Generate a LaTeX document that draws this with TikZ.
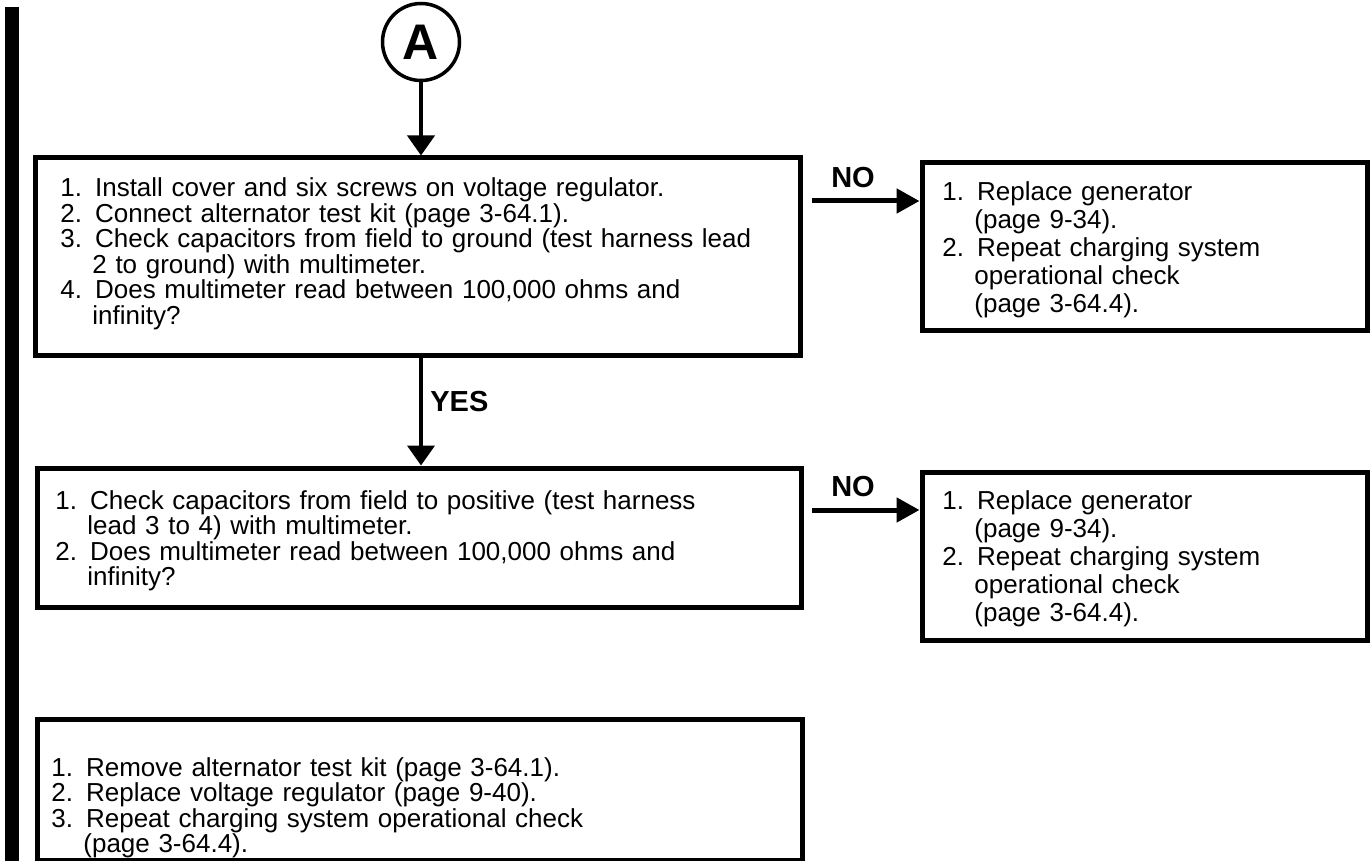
\documentclass[tikz,border=0pt]{standalone}
\usepackage{fontspec}
\setmainfont{Liberation Sans}
\usetikzlibrary{arrows.meta}
\newcommand\fcBody{\fontsize{13pt}{12.75pt}\selectfont\spaceskip=0.4em\relax\lineskiplimit=-20pt}
\newcommand\fcSide{\fontsize{13pt}{14pt}\selectfont\spaceskip=0.4em\relax\lineskiplimit=-20pt}
\newcommand\ind{\hspace*{16pt}}
\begin{document}
\begin{tikzpicture}[x=0.5pt,y=-0.5pt,
  box/.style={draw,line width=2.5pt,inner sep=0pt,anchor=center},
  txt/.style={anchor=base west,inner sep=0pt,align=left,text width=#1},
  arr/.style={line width=2pt,-{Triangle[length=10pt,width=13.5pt]}},
  noarr/.style={line width=2.5pt,-{Triangle[length=11.5pt,width=12pt]}},
  lbl/.style={inner sep=0pt,font=\fontsize{14.5pt}{14.5pt}\selectfont\bfseries}
]
\useasboundingbox (0,0) rectangle (1370,861);
% left bar
\fill (5,7) rectangle (19,861);
% start connector
\node[draw,circle,line width=1.75pt,minimum size=38.5pt,inner sep=0pt,
      font=\fontsize{25pt}{25pt}\selectfont\bfseries] (A) at (421,42) {A};
% boxes
\node[box,minimum width=382.5pt,minimum height=98.5pt] (b1) at (417.5,256.5) {};
\node[box,minimum width=222.5pt,minimum height=83.5pt] (b2) at (1144.5,246.5) {};
\node[box,minimum width=382pt,minimum height=69.5pt] (b3) at (419,537.5) {};
\node[box,minimum width=222.5pt,minimum height=84pt] (b4) at (1144.5,556) {};
\node[box,minimum width=382.5pt,minimum height=70.5pt] (b5) at (419.5,789.5) {};
% texts
\node[txt=370pt,font=\fcBody] (t1) at (60,197) {1. Install cover and six screws on voltage regulator.\\
2. Connect alternator test kit (page 3-64.1).\\
3. Check capacitors from field to ground (test harness lead\\
\ind 2 to ground) with multimeter.\\
4. Does multimeter read between 100,000 ohms and\\
\ind infinity?};
\node[txt=200pt,font=\fcSide] (t2) at (942,201) {1. Replace generator\\
\ind (page 9-34).\\
2. Repeat charging system\\
\ind operational check\\
\ind (page 3-64.4).};
\node[txt=370pt,font=\fcBody] (t3) at (55,509) {1. Check capacitors from field to positive (test harness\\
\ind lead 3 to 4) with multimeter.\\
2. Does multimeter read between 100,000 ohms and\\
\ind infinity?};
\node[txt=200pt,font=\fcSide] (t4) at (942,509) {1. Replace generator\\
\ind (page 9-34).\\
2. Repeat charging system\\
\ind operational check\\
\ind (page 3-64.4).};
\node[txt=370pt,font=\fcBody] (t5) at (51,776) {1. Remove alternator test kit (page 3-64.1).\\
2. Replace voltage regulator (page 9-40).\\
3. Repeat charging system operational check\\
\ind (page 3-64.4).};
% connectors
\draw[arr] (A.south) -- (A.south |- b1.north);
\draw[arr] (A |- b1.south) -- (A |- b3.north);
\node[lbl,anchor=west] (yes) at (430,402) {YES};
\coordinate (n1) at (812,201);
\coordinate (n2) at (812,510);
\draw[noarr] (n1) -- (n1 -| b2.west);
\draw[noarr] (n2) -- (n2 -| b4.west);
\node[lbl] (no1) at (853,178) {NO};
\node[lbl] (no2) at (853,487) {NO};
\end{tikzpicture}
\end{document}
